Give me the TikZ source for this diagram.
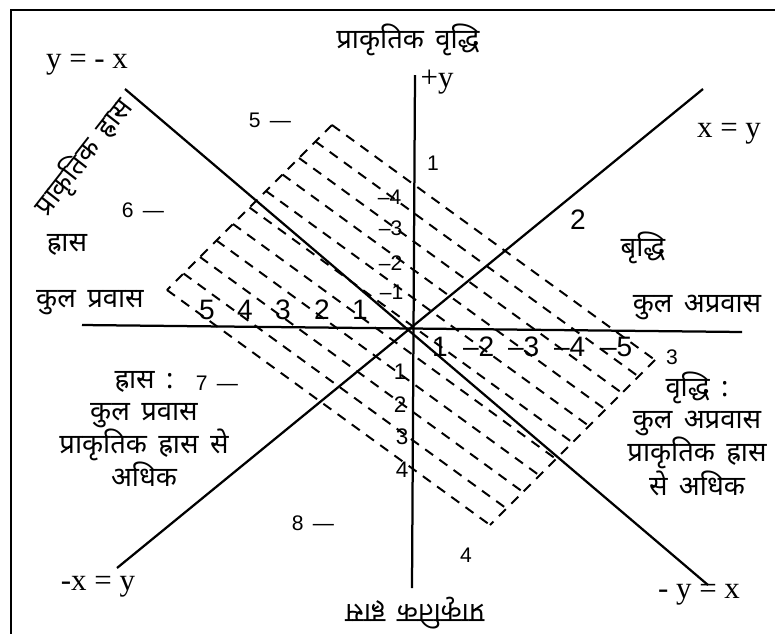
\documentclass[tikz,border=0pt]{standalone}
\usepackage{fontspec}
\setmainfont{Liberation Serif}
\newfontfamily\hindi[Script=Devanagari, WordSpace=1.6]{Noto Sans}
\newfontfamily\numsans{Liberation Sans}
\usetikzlibrary{calc}

\begin{document}
\begin{tikzpicture}[
  x=0.025cm, y=-0.025cm,
  axis/.style={line width=1.6pt},
  hatch/.style={line width=1.4pt, dash pattern=on 7pt off 5.5pt},
  hin/.style={font=\hindi\fontsize{19.5}{22.5}\selectfont, align=center, inner sep=1pt},
  eqn/.style={font=\fontsize{22}{24}\selectfont, inner sep=1pt},
  num/.style={font=\numsans\fontsize{15}{17}\selectfont, inner sep=1pt},
  midnum/.style={font=\numsans\fontsize{16}{18}\selectfont, inner sep=1pt},
  bignum/.style={font=\numsans\fontsize{20}{22}\selectfont, inner sep=1pt},
]
\useasboundingbox (0,0) rectangle (775,633);

% Frame
\draw[line width=2pt] (11,640) |- (780,10);

% === AXES ===
\coordinate (xW) at (82,325);
\coordinate (xE) at (742,332);
\coordinate (yN) at (415,75);
\coordinate (yS) at (412,588);
\coordinate (dNE) at (703,89);
\coordinate (dSW) at (117,568);
\coordinate (dNW) at (125,89);
\coordinate (dSE) at (708,585);

\draw[axis] (xW) -- (xE);
\draw[axis] (yN) -- (yS);
\draw[axis] (dSW) -- (dNE);
\draw[axis] (dNW) -- (dSE);

% === HATCHED BAND ===
\coordinate (hT) at (332,125);
\coordinate (hL) at (167,290);
\coordinate (hB) at (490,525);
\coordinate (hR) at (655,360);

\draw[hatch] (hT) -- (hL);
\draw[hatch] (hR) -- (hB);
\draw[hatch] ($(hT)!0.0!(hL)$) -- ($(hR)!0.0!(hB)$);
\draw[hatch] ($(hT)!0.1!(hL)$) -- ($(hR)!0.1!(hB)$);
\draw[hatch] ($(hT)!0.2!(hL)$) -- ($(hR)!0.2!(hB)$);
\draw[hatch] ($(hT)!0.3!(hL)$) -- ($(hR)!0.3!(hB)$);
\draw[hatch] ($(hT)!0.4!(hL)$) -- ($(hR)!0.4!(hB)$);
\draw[hatch] ($(hT)!0.5!(hL)$) -- ($(hR)!0.5!(hB)$);
\draw[hatch] ($(hT)!0.6!(hL)$) -- ($(hR)!0.6!(hB)$);
\draw[hatch] ($(hT)!0.7!(hL)$) -- ($(hR)!0.7!(hB)$);
\draw[hatch] ($(hT)!0.8!(hL)$) -- ($(hR)!0.8!(hB)$);
\draw[hatch] ($(hT)!0.9!(hL)$) -- ($(hR)!0.9!(hB)$);
\draw[hatch] ($(hT)!1.0!(hL)$) -- ($(hR)!1.0!(hB)$);

% === LINE LABELS ===
\node[eqn] (lyx) at (87,65) {y = - x};
\node[eqn] (lxy) at (729,134) {x = y};
\node[eqn] (lmxy) at (98,587) {-x = y};
\node[eqn] (lmyx) at (699,595) {- y = x};
\node[eqn, anchor=west] (lpy) at (419,82) {+y};

% === HINDI LABELS ===
\node[hin] (top) at (408,40) {प्राकृतिक वृद्धि};
\node[hin, rotate=180] (bot) at (415,613) {प्राकृतिक ह्रास};
\node[hin, rotate=52] (lrot) at (84,157) {प्राकृतिक ह्रास};
\node[hin] (hrs) at (67,245) {ह्रास};
\node[hin] (kpw) at (90,303) {कुल प्रवास};
\node[hin] (vrd) at (643,248) {बृद्धि};
\node[hin] (kaw) at (697,308) {कुल अप्रवास};
\node[hin] (lblock) at (144,429) {ह्रास :\\कुल प्रवास\\प्राकृतिक ह्रास से\\अधिक};
\node[hin] (rblock) at (697,434) {वृद्धि :\\कुल अप्रवास\\प्राकृतिक ह्रास\\से अधिक};

% === OCTANT NUMBERS ===
\node[num] (o1) at (433,163) {1};
\node[bignum] (o2) at (578,220) {2};
\node[num] (o3) at (672,357) {3};
\node[num] (o4) at (466,555) {4};
\node[num] (o5) at (270,120) {5 \,—};
\node[num] (o6) at (143,210) {6 \,—};
\node[num] (o7) at (217,383) {7 \,—};
\node[num] (o8) at (313,523) {8 \,—};

% === SCALE NUMBERS ===
\node[bignum] (w5) at (207,310) {5};
\node[bignum] (w4) at (245,310) {4};
\node[bignum] (w3) at (283,310) {3};
\node[bignum] (w2) at (322,310) {2};
\node[bignum] (w1) at (360,310) {1};

\node[bignum] (e1) at (440,347) {1};
\node[bignum, anchor=east] (e2) at (496,347) {–2};
\node[bignum, anchor=east] (e3) at (541,347) {–3};
\node[bignum, anchor=east] (e4) at (587,347) {–4};
\node[bignum, anchor=east] (e5) at (634,347) {–5};

\node[num, anchor=east] (n4) at (403,197) {–4};
\node[num, anchor=east] (n3) at (404,228) {–3};
\node[num, anchor=east] (n2) at (404,263) {–2};
\node[num, anchor=east] (n1) at (405,292) {–1};

\node[midnum] (s1) at (400,372) {1};
\node[midnum] (s2) at (400,405) {2};
\node[midnum] (s3) at (402,437) {3};
\node[midnum] (s4) at (402,470) {4};

\end{tikzpicture}
\end{document}
